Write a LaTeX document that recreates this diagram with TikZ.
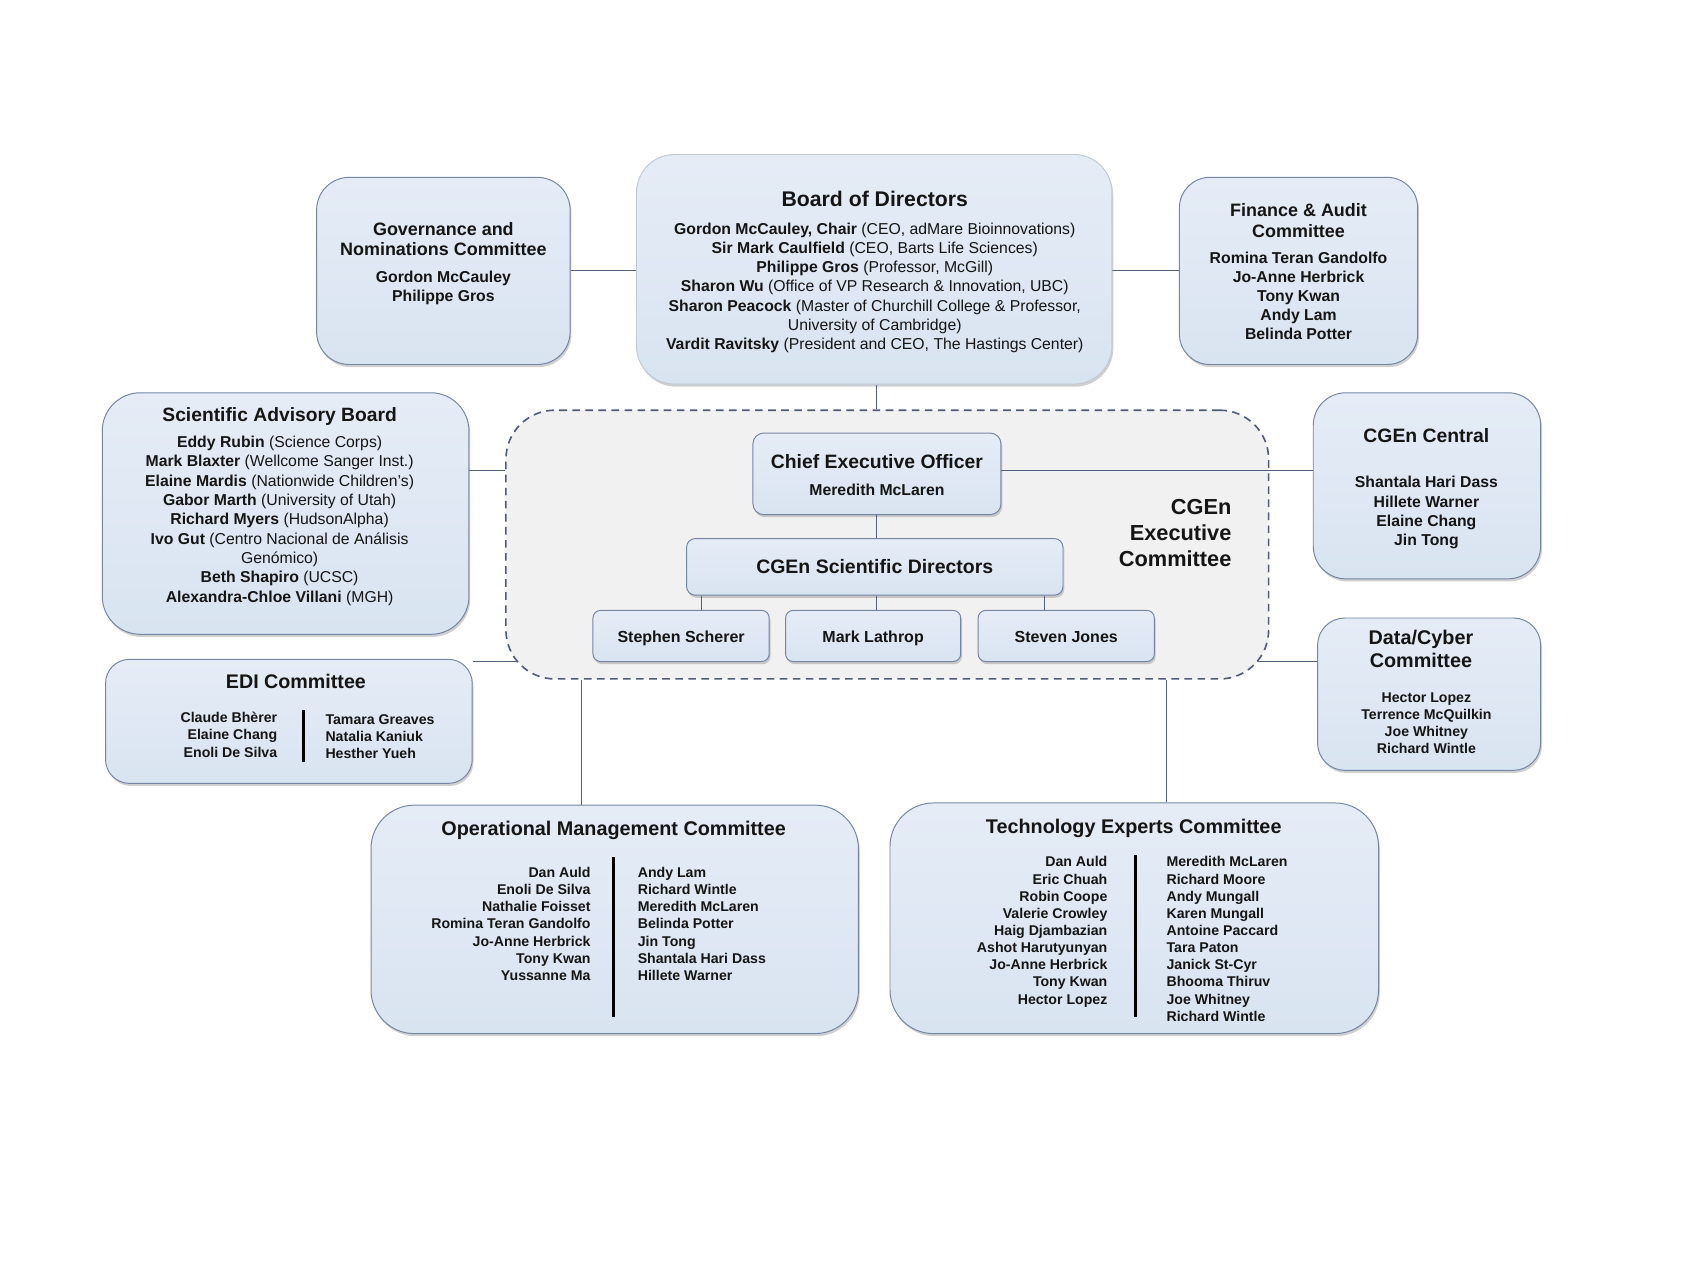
\documentclass[tikz,border=0pt]{standalone}
\usepackage{fontspec}
\setmainfont{Liberation Sans}
\usetikzlibrary{shadows,backgrounds}
\definecolor{boxtop}{HTML}{E5ECF6}
\definecolor{boxbot}{HTML}{D9E4F1}
\definecolor{boxline}{HTML}{7586A3}
\definecolor{connc}{HTML}{52607E}
\definecolor{execfill}{HTML}{F1F1F1}
\definecolor{execline}{HTML}{505B78}
\definecolor{textc}{HTML}{151515}
\begin{document}
\begin{tikzpicture}[x=1pt,y=-1pt,
  box/.style={draw=boxline, line width=0.9pt, top color=boxtop, bottom color=boxbot, inner sep=0pt,
    drop shadow={shadow xshift=1.2pt, shadow yshift=-2.4pt, opacity=0.3, fill=black!60}},
  execbox/.style={draw=execline, line width=1.5pt, dash pattern=on 7pt off 5pt, fill=execfill, inner sep=0pt},
  conn/.style={draw=connc, line width=0.9pt},
  bar/.style={draw=black, line width=2.6pt},
  txt/.style={inner sep=0pt, text=textc},
  fA/.style={font=\fontsize{#1}{#1}\selectfont\bfseries},
]
\begin{scope}[on background layer]
\fill[white] (0,0) rectangle (1568,1175.6);
\end{scope}
\useasboundingbox (0,0) rectangle (1568,1175.6);

% coordinates
\coordinate (yA) at (0,432);
\coordinate (yB) at (0,608);
\coordinate (xO) at (534,0);
\coordinate (xT) at (1072,0);
\coordinate (k1) at (645,0);
\coordinate (k2) at (806,0);
\coordinate (k3) at (960,0);

% boxes
\node[box, draw=boxline!45, minimum width=437pt, minimum height=211pt, rounded corners=35pt] (board) at (803.5,247.5) {};
\node[box, minimum width=233pt, minimum height=172pt, rounded corners=30pt] (gov) at (407.5,249) {};
\node[box, minimum width=219pt, minimum height=172pt, rounded corners=28pt] (fin) at (1193.5,249) {};
\node[box, minimum width=337pt, minimum height=222pt, rounded corners=35pt] (sab) at (262.5,472) {};
\node[execbox, minimum width=701pt, minimum height=247pt, rounded corners=45pt] (exec) at (815.5,500.5) {};
\node[box, minimum width=228pt, minimum height=75pt, rounded corners=10pt] (ceo) at (806,435.5) {};
\node[box, minimum width=346pt, minimum height=52pt, rounded corners=8pt] (sd) at (804,521) {};
\node[box, minimum width=162pt, minimum height=47pt, rounded corners=7pt] (ss) at (626,584.5) {};
\node[box, minimum width=161pt, minimum height=47pt, rounded corners=7pt] (ml) at (802.5,584.5) {};
\node[box, minimum width=162pt, minimum height=47pt, rounded corners=7pt] (sj) at (980,584.5) {};
\node[box, minimum width=209pt, minimum height=171pt, rounded corners=30pt] (cgc) at (1311.5,446.5) {};
\node[box, minimum width=205pt, minimum height=140pt, rounded corners=25pt] (dc) at (1313.5,638) {};
\node[box, minimum width=337pt, minimum height=114pt, rounded corners=22pt] (edi) at (265.5,663) {};
\node[box, minimum width=448pt, minimum height=210pt, rounded corners=40pt] (ops) at (565,845) {};
\node[box, minimum width=449pt, minimum height=212pt, rounded corners=40pt] (tech) at (1042.5,844) {};

% connectors behind
\begin{scope}[on background layer]
\draw[conn] (gov.east) -- (gov.east -| board.west);
\draw[conn] (fin.west -| board.east) -- (fin.west);
\draw[conn] (ceo.north |- board.south) -- (ceo.north |- exec.north);
\draw[conn] (sab.east |- yA) -- (exec.west |- yA);
\draw[conn] (edi.east |- yB) -- ([xshift=25pt]exec.west |- yB);
\draw[conn] (dc.west |- yB) -- ([xshift=-25pt]exec.east |- yB);
\draw[conn] (xO |- exec.south) -- (xO |- ops.north);
\draw[conn] (xT |- exec.south) -- (xT |- tech.north);
\end{scope}
% connectors inside the executive committee
\draw[conn] (ceo.south) -- (ceo.south |- sd.north);
\draw[conn] (k1 |- sd.south) -- (k1 |- ss.north);
\draw[conn] (k2 |- sd.south) -- (k2 |- ml.north);
\draw[conn] (k3 |- sd.south) -- (k3 |- sj.north);
\draw[conn] (ceo.east |- yA) -- (cgc.west |- yA);

% texts
\node[txt, anchor=base, fA=19.5] (boardT) at (804,190.0) {Board of Directors};
\node[txt, anchor=north, align=center, font=\fontsize{14.5}{17.67}\selectfont] (boardB) at (804,204.6)
 {\textbf{Gordon McCauley, Chair} (CEO, adMare Bioinnovations)\\
  \textbf{Sir Mark Caulfield} (CEO, Barts Life Sciences)\\
  \textbf{Philippe Gros} (Professor, McGill)\\
  \textbf{Sharon Wu} (Office of VP Research \& Innovation, UBC)\\
  \textbf{Sharon Peacock} (Master of Churchill College \& Professor,\\
  University of Cambridge)\\
  \textbf{Vardit Ravitsky} (President and CEO, The Hastings Center)};

\node[txt, anchor=north, align=center, font=\fontsize{16.5}{19}\selectfont\bfseries] (govT) at (407.5,203.9)
 {Governance and\\Nominations Committee};
\node[txt, anchor=north, align=center, font=\fontsize{14.5}{18}\selectfont\bfseries] (govB) at (407.5,248.6)
 {Gordon McCauley\\Philippe Gros};

\node[txt, anchor=north, align=center, font=\fontsize{16.5}{19}\selectfont\bfseries] (finT) at (1193.5,186.9)
 {Finance \& Audit\\Committee};
\node[txt, anchor=north, align=center, font=\fontsize{14.5}{17.5}\selectfont\bfseries] (finB) at (1193.5,231.6)
 {Romina Teran Gandolfo\\Jo-Anne Herbrick\\Tony Kwan\\Andy Lam\\Belinda Potter};

\node[txt, anchor=base, fA=17.7] (sabT) at (257,387.3) {Scientific Advisory Board};
\node[txt, anchor=north, align=center, font=\fontsize{14.5}{17.75}\selectfont] (sabB) at (257,400.6)
 {\textbf{Eddy Rubin} (Science Corps)\\
  \textbf{Mark Blaxter} (Wellcome Sanger Inst.)\\
  \textbf{Elaine Mardis} (Nationwide Children’s)\\
  \textbf{Gabor Marth} (University of Utah)\\
  \textbf{Richard Myers} (HudsonAlpha)\\
  \textbf{Ivo Gut} (Centro Nacional de Análisis\\
  Genómico)\\
  \textbf{Beth Shapiro} (UCSC)\\
  \textbf{Alexandra-Chloe Villani} (MGH)};

\node[txt, anchor=base, fA=17.8] (ceoT) at (806,430.4) {Chief Executive Officer};
\node[txt, anchor=base, fA=14.5] (ceoB) at (806,455.2) {Meredith McLaren};
\node[txt, anchor=base, fA=17.9] (sdT) at (804,527.4) {CGEn Scientific Directors};
\node[txt, anchor=base, fA=14.7] (ssT) at (626,590.3) {Stephen Scherer};
\node[txt, anchor=base, fA=14.7] (mlT) at (802.5,590.3) {Mark Lathrop};
\node[txt, anchor=base, fA=14.7] (sjT) at (980,590.3) {Steven Jones};
\node[txt, anchor=north east, align=right, font=\fontsize{20}{24}\selectfont\bfseries] (execT) at (1132,458.6)
 {CGEn\\Executive\\Committee};

\node[txt, anchor=base, fA=17.8] (cgcT) at (1311,406.4) {CGEn Central};
\node[txt, anchor=north, align=center, font=\fontsize{14.5}{17.7}\selectfont\bfseries] (cgcB) at (1311,437.6)
 {Shantala Hari Dass\\Hillete Warner\\Elaine Chang\\Jin Tong};

\node[txt, anchor=north, align=center, font=\fontsize{18.2}{21}\selectfont\bfseries] (dcT) at (1306,579.3)
 {Data/Cyber\\Committee};
\node[txt, anchor=north, align=center, font=\fontsize{13}{15.7}\selectfont\bfseries] (dcB) at (1311,636.2)
 {Hector Lopez\\Terrence McQuilkin\\Joe Whitney\\Richard Wintle};

\node[txt, anchor=base, fA=18.1] (ediT) at (272,632.5) {EDI Committee};
\node[txt, anchor=north east, align=right, font=\fontsize{13}{16}\selectfont\bfseries] (ediL) at (255,654.2)
 {Claude Bhèrer\\Elaine Chang\\Enoli De Silva};
\node[txt, anchor=north west, align=left, font=\fontsize{13}{15.7}\selectfont\bfseries] (ediR) at (299,656.2)
 {Tamara Greaves\\Natalia Kaniuk\\Hesther Yueh};
\draw[bar] (279,653) -- (279,700);

\node[txt, anchor=base, fA=18.2] (opsT) at (564,767.5) {Operational Management Committee};
\node[txt, anchor=north east, align=right, font=\fontsize{13}{15.67}\selectfont\bfseries] (opsL) at (543,797.2)
 {Dan Auld\\Enoli De Silva\\Nathalie Foisset\\Romina Teran Gandolfo\\Jo-Anne Herbrick\\Tony Kwan\\Yussanne Ma\ };
\node[txt, anchor=north west, align=left, font=\fontsize{13}{15.67}\selectfont\bfseries] (opsR) at (586,797.2)
 {Andy Lam\\Richard Wintle\\Meredith McLaren\\Belinda Potter\\Jin Tong\\Shantala Hari Dass\\Hillete Warner};
\draw[bar] (564,788) -- (564,935);

\node[txt, anchor=base, fA=18.2] (techT) at (1042,766.5) {Technology Experts Committee};
\node[txt, anchor=north east, align=right, font=\fontsize{13}{15.75}\selectfont\bfseries] (techL) at (1018,787.2)
 {Dan Auld\\Eric Chuah\\Robin Coope\\Valerie Crowley\\Haig Djambazian\\Ashot Harutyunyan\\Jo-Anne Herbrick\\Tony Kwan\\Hector Lopez};
\node[txt, anchor=north west, align=left, font=\fontsize{13}{15.75}\selectfont\bfseries] (techR) at (1072,787.2)
 {Meredith McLaren\\Richard Moore\\Andy Mungall\\Karen Mungall\\Antoine Paccard\\Tara Paton\\Janick St-Cyr\\Bhooma Thiruv\\Joe Whitney\\Richard Wintle};
\draw[bar] (1044,786) -- (1044,935);
\end{tikzpicture}
\end{document}
